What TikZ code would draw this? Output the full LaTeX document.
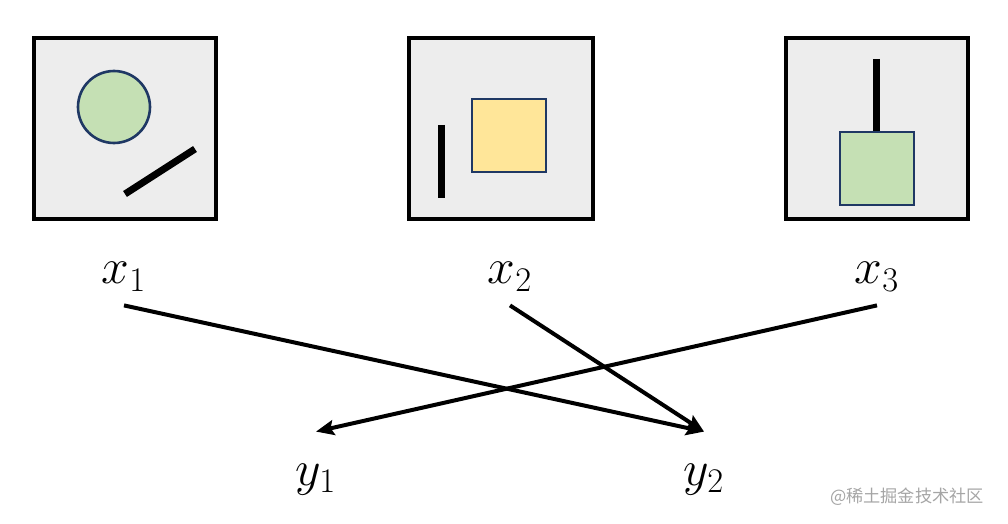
\documentclass[tikz,border=0pt]{standalone}
\usepackage{fontspec}
\usepackage{tikz}
\usetikzlibrary{positioning,calc,arrows.meta}
\newfontfamily\cjk{Noto Sans CJK SC}
\definecolor{panelgray}{RGB}{237,237,237}
\definecolor{shapegreen}{RGB}{197,224,180}
\definecolor{shapeyellow}{RGB}{255,230,153}
\definecolor{shapenavy}{RGB}{31,56,100}
\definecolor{markgray}{RGB}{165,165,165}

\begin{document}
\begin{tikzpicture}[x=0.5pt,y=-0.5pt,
  panel/.style={draw=black,line width=1.6pt,fill=panelgray},
  blob/.style={draw=shapenavy,line width=1.3pt},
  bar/.style={draw=black,line width=3.5pt},
  xvar/.style={inner sep=0pt,anchor=base,text depth=10.5pt,font=\fontsize{25.5}{30}\selectfont},
  yvar/.style={inner sep=0pt,anchor=base,text height=26.5pt,font=\fontsize{25.5}{30}\selectfont},
  arr/.style={-{Stealth[length=9pt,width=7.5pt,inset=1.5pt]},line width=2pt}]
  \useasboundingbox (0,0) rectangle (1008,524);
  % panels
  \draw[panel] (34,38) rectangle (216,219);
  \draw[panel] (409,38) rectangle (593,219);
  \draw[panel] (786,38) rectangle (968,219);
  % panel contents
  \draw[blob,fill=shapegreen] (114,107) circle[radius=36];
  \draw[bar] (125,194) -- (195,149);
  \draw[blob,fill=shapeyellow] (472,99) rectangle (546,172);
  \draw[bar] (441,125) -- (441,198);
  \draw[bar] (876,59) -- (876,132);
  \draw[blob,fill=shapegreen] (840,132) rectangle (914,205);
  % variables
  \node[xvar] (x1) at (124,284) {$x_1$};
  \node[xvar] (x2) at (510,284) {$x_2$};
  \node[xvar] (x3) at (877,284) {$x_3$};
  \node[yvar] (y1) at (316,485) {$y_1$};
  \node[yvar] (y2) at (704,485) {$y_2$};
  \draw[arr] (x1.south) -- (y2.north);
  \draw[arr] (x2.south) -- (y2.north);
  \draw[arr] (x3.south) -- (y1.north);
  \node[font=\cjk\fontsize{8.6}{10}\selectfont,text=markgray,anchor=east] (mark) at (991,497) {@稀土掘金技术社区};
\end{tikzpicture}
\end{document}
